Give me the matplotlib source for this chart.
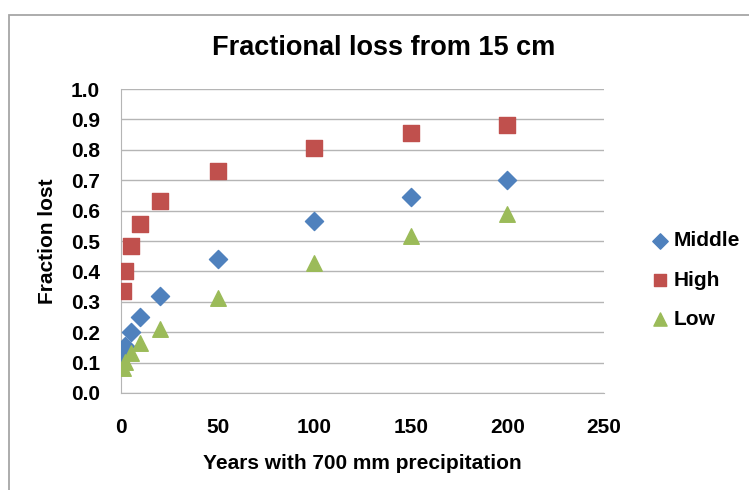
import matplotlib
matplotlib.use("Agg")
import matplotlib.pyplot as plt
from matplotlib.patches import Rectangle

# data
years = [1, 2, 5, 10, 20, 50, 100, 150, 200]
middle = [0.125, 0.155, 0.202, 0.250, 0.318, 0.442, 0.566, 0.645, 0.702]
high = [0.335, 0.400, 0.482, 0.555, 0.630, 0.730, 0.807, 0.854, 0.880]
low = [0.081, 0.103, 0.131, 0.165, 0.210, 0.311, 0.429, 0.516, 0.588]

x_ticks = [0, 50, 100, 150, 200, 250]
y_ticks = [round(0.1 * i, 1) for i in range(11)]

plt.rcParams["font.family"] = ["Liberation Sans", "DejaVu Sans"]
plt.rcParams["font.weight"] = "bold"

fig = plt.figure(figsize=(7.49, 4.90), dpi=100)
ax = fig.add_axes([121 / 749, 1 - 393 / 490, 483 / 749, 304 / 490])

# outer chart frame (only the top/left edges are inside the picture)
fig.patches.append(Rectangle((9 / 749, -0.2), 1.2, 1 - 15 / 490 + 0.2,
                             transform=fig.transFigure, fill=False,
                             edgecolor="#a6a6a6", lw=1.3))

ax.scatter(years, middle, marker="D", s=85, color="#4F81BD", label="Middle", zorder=3)
ax.scatter(years, high, marker="s", s=120, color="#C0504D", label="High", zorder=3)
ax.scatter(years, low, marker="^", s=125, color="#9BBB59", label="Low", zorder=3)

ax.set_xlim(0, 250)
ax.set_ylim(0, 1.0)
ax.set_xticks(x_ticks)
ax.set_yticks(y_ticks)
ax.set_yticklabels([f"{v:.1f}" for v in y_ticks])
ax.tick_params(length=0, labelsize=15)
ax.tick_params(axis="y", pad=15)
ax.tick_params(axis="x", pad=18)
ax.grid(axis="y", color="#b5b5b5", lw=1)
ax.set_axisbelow(True)
for side in ("top", "right"):
    ax.spines[side].set_visible(False)
for side in ("left", "bottom"):
    ax.spines[side].set_color("#b5b5b5")

ax.set_xlabel("Years with 700 mm precipitation", fontsize=15,
              fontweight="bold", labelpad=12)
ax.set_ylabel("Fraction lost", fontsize=15, fontweight="bold", labelpad=10)
fig.text(384 / 749, 1 - 48 / 490, "Fractional loss from 15 cm",
         ha="center", va="center", fontsize=19.5, fontweight="bold")

fig.legend(loc="center left", bbox_to_anchor=(643 / 749, 1 - 280 / 490),
           frameon=False, fontsize=15, markerscale=0.85, handlelength=0.6,
           handletextpad=0.35, labelspacing=0.98, borderpad=0)

fig.savefig("out.png", dpi=100)
